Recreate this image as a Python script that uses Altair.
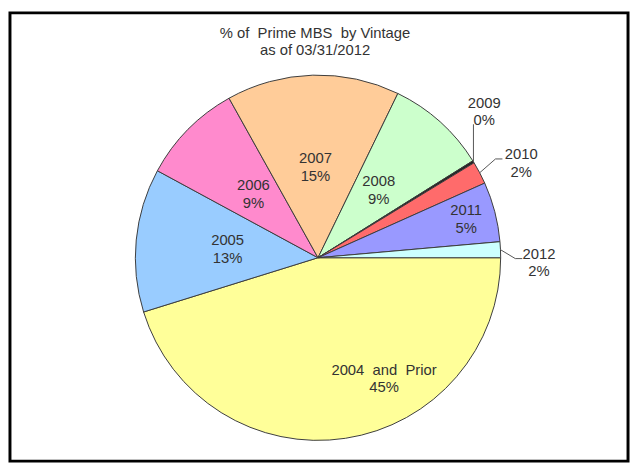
import math
import altair as alt
import pandas as pd

# ---------------- data ----------------
categories = ["2004 and Prior", "2005", "2006", "2007", "2008", "2009", "2010", "2011", "2012"]
display_names = ["2004\u00a0 and\u00a0 Prior", "2005", "2006", "2007", "2008", "2009", "2010", "2011", "2012"]
shares = [45.2, 12.7, 9.0, 15.3, 8.9, 0.2, 2.0, 5.3, 1.4]
pct_labels = ["45%", "13%", "9%", "15%", "9%", "0%", "2%", "5%", "2%"]
slice_colors = ["#FFFF99", "#99CCFF", "#FF8ACD", "#FFCC99", "#CCFFCC",
                "#222222", "#FF6B6B", "#9999FF", "#CCFFFF"]
title_lines = ["% of\u00a0 Prime MBS\u00a0 by Vintage", "as of 03/31/2012"]

# ---------------- layout / style ----------------
W, H, PAD = 626, 454, 2
CX, CY, R = 312, 248, 185
FONT = "Liberation Sans"
TXT = "#333333"
FS = 15
LH = 18
SHIFT = -LH / 2  # centre two-line blocks vertically

df = pd.DataFrame({"cat": categories, "name": display_names, "share": shares, "pct": pct_labels})
df["end"] = df["share"].cumsum()
df["start"] = df["end"] - df["share"]
df["mid"] = (df["start"] + df["end"]) / 2
df["label"] = df["name"] + "\n" + df["pct"]
total = float(df["share"].sum())

theta_scale = alt.Scale(domain=[0, total], range=[math.pi / 2, math.pi / 2 + 2 * math.pi])

arcs = alt.Chart(df).mark_arc(outerRadius=R, stroke="#3c3c3c", strokeWidth=1).encode(
    theta=alt.Theta("start:Q", scale=theta_scale),
    theta2="end:Q",
    color=alt.Color("cat:N", scale=alt.Scale(domain=categories, range=slice_colors), legend=None),
    x=alt.value(CX),
    y=alt.value(CY),
)

# inside labels: (radius, dx, dy) -> categories
inside_groups = [
    ((92, 0, 0), ["2005", "2006", "2007", "2008"]),
    ((155, 0, 0), ["2011"]),
    ((139, 46, -15), ["2004 and Prior"]),
]
inside_layers = []
for (rad, ddx, ddy), cats in inside_groups:
    inside_layers.append(
        alt.Chart(df).transform_filter(alt.FieldOneOfPredicate(field="cat", oneOf=cats))
        .mark_text(radius=rad, dx=ddx, dy=ddy + SHIFT, font=FONT, fontSize=FS, color=TXT,
                   lineBreak="\n", lineHeight=LH, align="center", baseline="middle")
        .encode(theta=alt.Theta("mid:Q", scale=theta_scale), text="label:N",
                x=alt.value(CX), y=alt.value(CY))
    )

# outside labels with leader lines: elbow offset, end offset, text offset
leader_layout = {
    "2009": ((0, -38), (0, -38), (11, -13)),
    "2010": ((16, -14), (23, -14), (19, 4)),
    "2012": ((15, 9), (22, 9), (17, 4)),
}
pts, txts = [], []
for _, row in df[df["cat"].isin(list(leader_layout))].iterrows():
    a = math.pi / 2 + row["mid"] / total * 2 * math.pi
    ex, ey = CX + R * math.sin(a), CY - R * math.cos(a)
    (e1x, e1y), (e2x, e2y), (tx, ty) = leader_layout[row["cat"]]
    for i, (px, py) in enumerate([(ex, ey), (ex + e1x, ey + e1y), (ex + e2x, ey + e2y)]):
        pts.append({"cat": row["cat"], "seq": i, "px": px, "py": py})
    txts.append({"cat": row["cat"], "label": row["label"],
                 "tx": ex + e2x + tx, "ty": ey + e2y + ty})

leaders = alt.Chart(pd.DataFrame(pts)).mark_line(color="#555555", strokeWidth=1).encode(
    x=alt.X("px:Q", scale=None, axis=None),
    y=alt.Y("py:Q", scale=None, axis=None),
    detail="cat:N",
    order="seq:Q",
)
outside_text = alt.Chart(pd.DataFrame(txts)).mark_text(
    font=FONT, fontSize=FS, color=TXT, lineBreak="\n", lineHeight=LH,
    align="center", baseline="middle", dy=SHIFT
).encode(
    x=alt.X("tx:Q", scale=None, axis=None),
    y=alt.Y("ty:Q", scale=None, axis=None),
    text="label:N",
)

title = alt.Chart(pd.DataFrame({"t": ["\n".join(title_lines)]})).mark_text(
    font=FONT, fontSize=FS, color=TXT, lineBreak="\n", lineHeight=LH,
    align="center", baseline="middle", dy=SHIFT
).encode(x=alt.value(309), y=alt.value(29), text="t:N")

chart = alt.layer(arcs, *inside_layers, leaders, outside_text, title).properties(
    width=W, height=H, padding=PAD, autosize="none", background="white"
).configure_view(stroke="#000000", strokeWidth=3)

chart.save("out.html", embed_options={"renderer": "svg", "actions": False})
